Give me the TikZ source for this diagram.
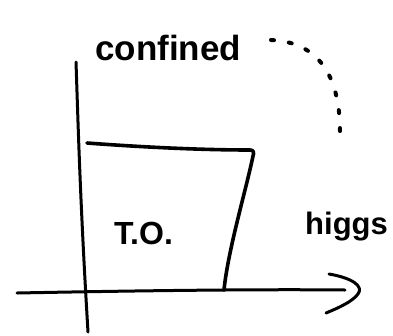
\documentclass[tikz,border=0pt]{standalone}
\usepackage{fontspec}
\setmainfont{Liberation Sans}
\begin{document}
\begin{tikzpicture}[x=1pt,y=-1pt,
  stroke/.style={line width=3pt,line cap=round,line join=round,black},
  thick stroke/.style={line width=3.6pt,line cap=round,line join=round,black},
  dotted arc/.style={line width=4pt,line cap=round,dash pattern=on 3pt off 15pt},
  hand/.style={inner sep=0pt,font=\bfseries}]
\useasboundingbox (0,0) rectangle (393,335);
% axes
\draw[stroke] (76,62) .. controls (78,120) and (80,200) .. (88,332);
\draw[stroke] (17,293) .. controls (120,291) and (250,289) .. (345,290);
\draw[stroke] (329,274) .. controls (352,278) and (364,286) .. (358,294)
  .. controls (352,302) and (338,308) .. (326,313);
% region box
\draw[thick stroke] (87,143) .. controls (140,147) and (200,150) .. (250,150)
  .. controls (254,150) and (254,153) .. (253,156)
  .. controls (246,190) and (228,250) .. (224,290);
% labels
\node[hand,font=\bfseries\fontsize{35}{35}\selectfont,anchor=base west] (conf) at (95,60) {confined};
\node[hand,font=\bfseries\fontsize{32}{32}\selectfont,anchor=base west] (to) at (114,244) {T.O.};
\node[hand,font=\bfseries\fontsize{31}{31}\selectfont,anchor=base west] (higgs) at (305,234) {higgs};
% dotted curve
\draw[dotted arc] (271,40) .. controls (318,42) and (340,75) .. (340,132);
\end{tikzpicture}
\end{document}
